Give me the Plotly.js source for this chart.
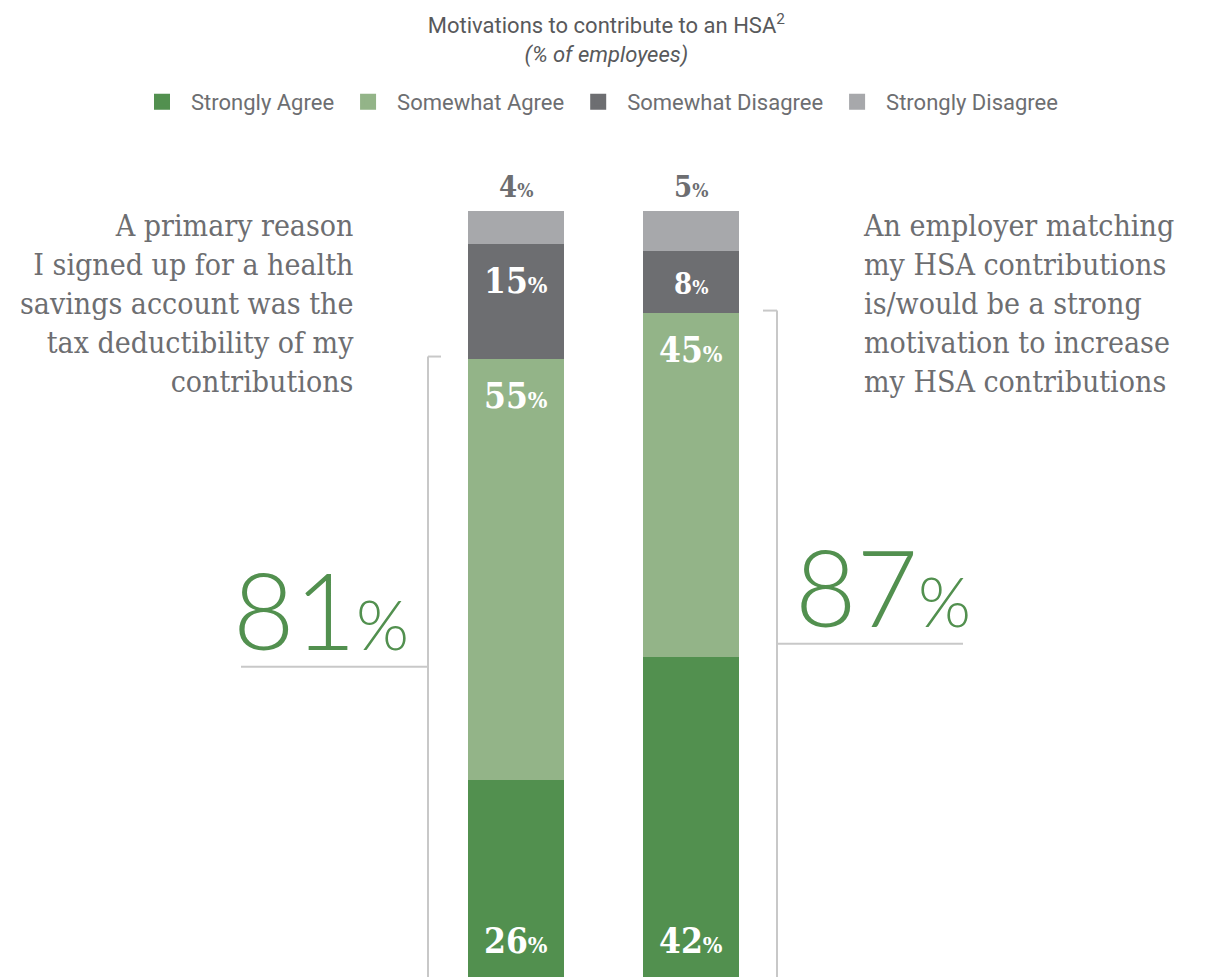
<!DOCTYPE html>
<html><head><meta charset="utf-8">
<script src="https://cdn.plot.ly/plotly-3.0.1.min.js"></script>
<style>body{margin:0;background:#fff}</style>
</head><body><div id="chart" style="width:1230px;height:977px"></div>
<script>
// ---- data ----
const categories = ["Tax deductibility", "Employer match"];
const categoryText = [
  "A primary reason<br>I signed up for a health<br>savings account was the<br>tax deductibility of my<br>contributions",
  "An employer matching<br>my HSA contributions<br>is/would be a strong<br>motivation to increase<br>my HSA contributions"
];
const seriesNames = ["Strongly Agree", "Somewhat Agree", "Somewhat Disagree", "Strongly Disagree"];
const stronglyAgree = [26, 42];
const somewhatAgree = [55, 45];
const somewhatDisagree = [15, 8];
const stronglyDisagree = [4, 5];
const titleText = "Motivations to contribute to an HSA<sup>2</sup><br><i>(% of employees)</i>";

// ---- style ----
const W = 1230, H = 977;
const colors = ["#52904f", "#93b488", "#6d6e71", "#a7a8ab"];
const gray = "#6d6e71";
const lineColor = "#c8c8c8";
const green = "#52904f";
const sansNarrow = "Roboto, sans-serif";
const slab = "DejaVu Serif Condensed, DejaVu Serif, serif";
const px = v => v / W; // horizontal pixel -> paper fraction
const edge = 4; // bar outline (same colour) -> also enlarges legend squares

const series = [stronglyAgree, somewhatAgree, somewhatDisagree, stronglyDisagree];
const labelMode = ["bottom", "top", "top", "above"];

const traces = series.map((vals, i) => ({
  type: "bar",
  name: seriesNames[i],
  x: categories,
  y: vals,
  marker: {color: colors[i], line: {width: edge, color: colors[i]}},
  hoverinfo: "name+y"
}));

const annotations = [];
categories.forEach((cat, j) => {
  let base = 0;
  series.forEach((vals, i) => {
    const v = vals[j];
    const top = base + v;
    const small = v < 10;
    const fs = small ? 29 : 35;
    const pfs = Math.round(fs * 0.66);
    const txt = v + '<span style="font-size:' + pfs + 'px">%</span>';
    const mode = labelMode[i];
    const a = {
      xref: "x", yref: "y", x: cat, showarrow: false, text: txt,
      font: {family: slab, size: fs, color: mode === "above" ? gray : "#ffffff", weight: "bold"}
    };
    if (mode === "bottom") { a.y = base; a.yanchor = "bottom"; a.yshift = 14; }
    else if (mode === "top") { a.y = top; a.yanchor = "top"; a.yshift = -16; }
    else { a.y = top; a.yanchor = "bottom"; a.yshift = 5; }
    annotations.push(a);
    base = top;
  });
});

const agreeTotals = categories.map((c, j) => stronglyAgree[j] + somewhatAgree[j]);

// side descriptions
annotations.push({xref: "paper", yref: "paper", x: px(356), y: 1, xanchor: "right", yanchor: "top", yshift: 5,
  align: "right", showarrow: false, text: categoryText[0], font: {family: slab, size: 30, color: gray}});
annotations.push({xref: "paper", yref: "paper", x: px(861), y: 1, xanchor: "left", yanchor: "top", yshift: 5,
  align: "left", showarrow: false, text: categoryText[1], font: {family: slab, size: 30, color: gray}});

// big totals
const pctSpan = '<span style="font-size:68px">%</span>';
annotations.push({xref: "paper", yref: "y", x: px(231), y: agreeTotals[0] / 2, xanchor: "left", yanchor: "bottom", yshift: -8,
  showarrow: false, text: agreeTotals[0] + pctSpan,
  font: {family: "Lato, Open Sans, sans-serif", size: 106, color: green, weight: 300}});
annotations.push({xref: "paper", yref: "y", x: px(973), y: agreeTotals[1] / 2, xanchor: "right", yanchor: "bottom", yshift: -8,
  showarrow: false, text: agreeTotals[1] + pctSpan,
  font: {family: "Lato, Open Sans, sans-serif", size: 106, color: green, weight: 300}});

const ln = {color: lineColor, width: 2};
const shapes = [
  {type: "line", xref: "paper", yref: "y", x0: px(428), x1: px(428), y0: 0, y1: agreeTotals[0], line: ln},
  {type: "line", xref: "paper", yref: "y", x0: px(428), x1: px(441), y0: agreeTotals[0], y1: agreeTotals[0], line: ln},
  {type: "line", xref: "paper", yref: "y", x0: px(241), x1: px(428), y0: agreeTotals[0] / 2, y1: agreeTotals[0] / 2, line: ln},
  {type: "line", xref: "paper", yref: "y", x0: px(777), x1: px(777), y0: 0, y1: agreeTotals[1], line: ln},
  {type: "line", xref: "paper", yref: "y", x0: px(763), x1: px(777), y0: agreeTotals[1], y1: agreeTotals[1], line: ln},
  {type: "line", xref: "paper", yref: "y", x0: px(777), x1: px(963), y0: agreeTotals[1] / 2, y1: agreeTotals[1] / 2, line: ln}
];

const catSpacing = 175, firstCenter = 516;
const topMargin = 211;
const layout = {
  width: W, height: H,
  margin: {l: 0, r: 0, t: topMargin, b: 0, pad: 0},
  paper_bgcolor: "#ffffff", plot_bgcolor: "#ffffff",
  barmode: "stack", bargap: 1 - (96 - edge) / catSpacing,
  title: {text: titleText, x: 0.493, xref: "container", xanchor: "center", y: 0.966, yref: "container", yanchor: "top",
    font: {family: sansNarrow, size: 22, color: "#58595b"}},
  xaxis: {visible: false, type: "category", range: [-firstCenter / catSpacing, (W - firstCenter) / catSpacing], fixedrange: true},
  yaxis: {visible: false, range: [0, 100], fixedrange: true},
  showlegend: true,
  legend: {orientation: "h", x: px(598), xanchor: "center", y: 1 + (topMargin - 102) / (H - topMargin), yanchor: "middle",
    traceorder: "normal", itemwidth: 48, font: {family: sansNarrow, size: 22, color: gray}, bgcolor: "rgba(0,0,0,0)"},
  shapes: shapes,
  annotations: annotations
};

Plotly.newPlot("chart", traces, layout, {displayModeBar: false, staticPlot: true});
</script>
</body></html>
